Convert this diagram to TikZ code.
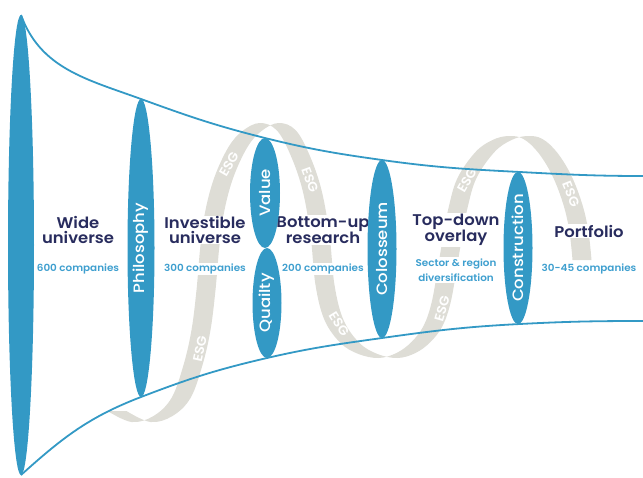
\documentclass[tikz,border=0pt]{standalone}
\usepackage{fontspec}
\setmainfont{Poppins}[FakeStretch=1.08]
\newfontfamily\medfont{Poppins}[UprightFont={* Medium}, FakeStretch=1.1]
\newfontfamily\semifont{Poppins}[UprightFont={* SemiBold}, FakeStretch=1.06]
\usetikzlibrary{shapes.geometric}
\definecolor{funnelblue}{HTML}{3399C5}
\definecolor{esggrey}{HTML}{DEDDD6}
\definecolor{titlenavy}{HTML}{282C5E}
\definecolor{tallyblue}{HTML}{3E9FCF}
\newcommand{\bw}{9.5}
\tikzset{
  lens/.style={ellipse, fill=funnelblue, inner sep=0pt, outer sep=0pt, text=white, font=\medfont\fontsize{15}{15}\selectfont},
  stage/.style={fill=white, inner sep=1pt, align=center, text=titlenavy, font=\semifont\fontsize{15.5}{14.5}\selectfont},
  tally/.style={fill=white, inner sep=1pt, align=center, text=tallyblue, font=\semifont\fontsize{9.8}{15.5}\selectfont},
  esg/.style={text=white, inner sep=0pt, font=\semifont\fontsize{13}{13}\selectfont},
  funnel/.style={draw=funnelblue, line width=1.8pt}
}
\begin{document}
\begin{tikzpicture}[x=1pt,y=1pt]
\useasboundingbox (0,0) rectangle (643,-477);
% ESG ribbon
\fill[esggrey] plot[smooth, tension=0.6] coordinates {
 (117-\bw,-411) (141-\bw,-422) (163-\bw,-416) (181-\bw,-398) (193-\bw,-365) (201-\bw,-330)
 (206-\bw,-290) (210-\bw,-245) (215-\bw,-210) (224-\bw,-177) (238-\bw,-147) (252-\bw,-131)
 (269-\bw,-123) (286-\bw,-130) (300-\bw,-155) (312-\bw,-190) (320-\bw,-235) (325-\bw,-285)
 (334-\bw,-320) (350-\bw,-343) (368-\bw,-354) (388-\bw,-358) (406-\bw,-353) (421-\bw,-342)
 (433-\bw,-326) (441-\bw,-303) (447-\bw,-270) (452-\bw,-240) (458-\bw,-208) (467-\bw,-178)
 (485-\bw,-152) (502-\bw,-140) (518-\bw,-136) (533-\bw,-139) (548-\bw,-153) (562-\bw,-176)
 (573-\bw,-205) (579-\bw,-232) (582-\bw,-260)}
 -- plot[smooth, tension=0.6] coordinates {
 (582+\bw,-260) (579+\bw,-232) (573+\bw,-205) (562+\bw,-176) (548+\bw,-153) (533+\bw,-139)
 (518+\bw,-136) (502+\bw,-140) (485+\bw,-152) (467+\bw,-178) (458+\bw,-208) (452+\bw,-240)
 (447+\bw,-270) (441+\bw,-303) (433+\bw,-326) (421+\bw,-342) (406+\bw,-353) (388+\bw,-358)
 (368+\bw,-354) (350+\bw,-343) (334+\bw,-320) (325+\bw,-285) (320+\bw,-235) (312+\bw,-190)
 (300+\bw,-155) (286+\bw,-130) (269+\bw,-123) (252+\bw,-131) (238+\bw,-147) (224+\bw,-177)
 (215+\bw,-210) (210+\bw,-245) (206+\bw,-290) (201+\bw,-330) (193+\bw,-365) (181+\bw,-398)
 (163+\bw,-416) (141+\bw,-422) (117+\bw,-411)} -- cycle;
\foreach \x/\y/\a [count=\i] in {200/349/78, 229/164/60, 310/180/-70, 339/324/-58, 442/309/74, 467/180/60, 571/194/-68}
  \node[esg, rotate=\a] (esg\i) at (\x,-\y) {ESG};
% stage texts
\node[stage] (widetxt) at (78,-230) {Wide\\universe};
\node[tally] (widenum) at (78,-269) {600 companies};
\node[stage] (invtxt) at (205,-230) {Investible\\universe};
\node[tally] (invnum) at (205,-269) {300 companies};
\node[stage] (buptxt) at (323,-230) {Bottom-up\\research};
\node[tally] (bupnum) at (323,-269) {200 companies};
\node[stage] (tdtxt) at (456,-230) {Top-down\\overlay};
\node[tally] (tdnum) at (456,-270) {Sector \& region\\diversification};
\node[stage] (porttxt) at (589,-231) {Portfolio};
\node[tally] (portnum) at (589,-269) {30-45 companies};
% filters
\node[lens, minimum width=26, minimum height=460] (wide) at (21,-245) {};
\node[lens, minimum width=27, minimum height=298] (philo) at (141,-248) {\rotatebox{90}{Philosophy}};
\node[lens, minimum width=30, minimum height=110] (value) at (265,-193) {\rotatebox{90}{Value}};
\node[lens, minimum width=29, minimum height=110] (quality) at (267,-303) {\rotatebox{90}{Quailty}};
\node[lens, minimum width=29, minimum height=178] (colos) at (382,-249) {\rotatebox{90}{Colosseum}};
\node[lens, minimum width=29, minimum height=148] (constr) at (518,-248) {\rotatebox{90}{Construction}};
% funnel
\coordinate (topend) at (643,-176);
\coordinate (botend) at (643,-321);
\draw[funnel] (wide.north) to[out=-70, in=160] (philo.north) to[out=-20, in=166] (value.north)
  to[out=-14, in=172] (colos.north) to[out=-8, in=177] (constr.north) to[out=-3, in=180] (topend);
\draw[funnel] (wide.south) to[out=42, in=201] (philo.south) to[out=21, in=193] (quality.south)
  to[out=13, in=188] (colos.south) to[out=8, in=183] (constr.south) to[out=3, in=180] (botend);
\end{tikzpicture}
\end{document}
